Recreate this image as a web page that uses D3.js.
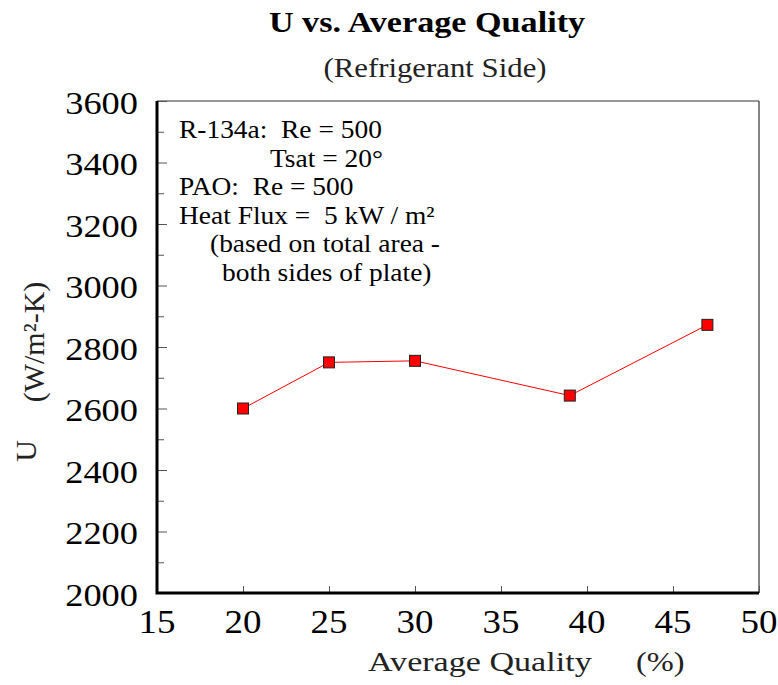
<!DOCTYPE html>
<html>
<head>
<meta charset="UTF-8">
<title>U vs. Average Quality</title>
<script src="https://cdn.jsdelivr.net/npm/d3@7"></script>
<style>
  body { margin: 0; background: #fff; }
  text { font-family: "Liberation Serif", "Times New Roman", serif; white-space: pre; }
</style>
</head>
<body>
<svg id="chart" width="778" height="685"></svg>
<script>
// data
const quality = [20, 25, 30, 39, 47];
const uValues = [2600, 2750, 2755, 2642, 2872];
const xTicks = [15, 20, 25, 30, 35, 40, 45, 50];
const yTicks = [2000, 2200, 2400, 2600, 2800, 3000, 3200, 3400, 3600];
const yMinor = [2100, 2300, 2500, 2700, 2900, 3100, 3300, 3500];
const notes = [
  { t: "R-134a:  Re = 500", dx: 0 },
  { t: "Tsat = 20°", dx: 91 },
  { t: "PAO:  Re = 500", dx: 0 },
  { t: "Heat Flux =  5 kW / m²", dx: 0 },
  { t: "(based on total area -", dx: 31 },
  { t: "both sides of plate)", dx: 43 }
];

const svg = d3.select("#chart");
const pLeft = 157, pRight = 759, pTop = 101, pBottom = 593;
const SX = 1.12; // the text in the picture is a bit wide

const x = d3.scaleLinear().domain([15, 50]).range([pLeft, pRight]);
const y = d3.scaleLinear().domain([2000, 3600]).range([pBottom, pTop]);

// text placed at (tx,ty) and stretched sideways
function label(g, tx, ty, str, size, anchor, sx) {
  return g.append("text")
    .attr("transform", `translate(${tx},${ty}) scale(${sx || SX},1)`)
    .attr("text-anchor", anchor || "start")
    .attr("font-family", "Liberation Serif")
    .attr("font-size", size)
    .text(str);
}

// title
label(svg, 427, 32, "U vs. Average Quality", 30.5, "middle").attr("font-weight", "bold");
label(svg, 435, 77, "(Refrigerant Side)", 27.5, "middle").attr("fill", "#222");

// frame: thin top/right
svg.append("line").attr("x1", pLeft).attr("x2", pRight).attr("y1", pTop).attr("y2", pTop)
  .attr("stroke", "#333").attr("stroke-width", 1.2);
svg.append("line").attr("x1", pRight).attr("x2", pRight).attr("y1", pTop).attr("y2", pBottom)
  .attr("stroke", "#333").attr("stroke-width", 1.2);

// y axis, ticks pointing in
const yAxis = svg.append("g").attr("transform", `translate(${pLeft},0)`)
  .call(d3.axisRight(y).tickValues(yTicks).tickSize(10).tickFormat(""));
yAxis.select(".domain").remove();
const yAxisMinor = svg.append("g").attr("transform", `translate(${pLeft},0)`)
  .call(d3.axisRight(y).tickValues(yMinor).tickSize(7).tickFormat(""));
yAxisMinor.select(".domain").remove();
svg.selectAll(".tick line").attr("stroke", "#555");

const yLab = svg.append("g");
yTicks.forEach(d => label(yLab, 138, y(d) + 12.5, d, 32.5, "end"));

// x axis, ticks pointing in
const xAxis = svg.append("g").attr("transform", `translate(0,${pBottom})`)
  .call(d3.axisTop(x).tickValues(xTicks).tickSize(7).tickFormat(""));
xAxis.select(".domain").remove();
xAxis.selectAll(".tick line").attr("stroke", "#555");

const xLab = svg.append("g");
xTicks.forEach(d => label(xLab, x(d), 633, d, 33, "middle"));

// thick left/bottom axis lines
svg.append("path")
  .attr("d", `M${pLeft},${pTop}V${pBottom}H${pRight}`)
  .attr("fill", "none").attr("stroke", "#000").attr("stroke-width", 3);

// axis titles
label(svg, 368, 671, "Average Quality", 27.5, "start", 1.24).attr("fill", "#222");
label(svg, 636, 671, "(%)", 27, "start", 1.2).attr("fill", "#222");
svg.append("text").attr("transform", "translate(36,451) rotate(-90)")
  .attr("text-anchor", "middle").attr("font-size", 30).attr("fill", "#222")
  .text("U");
svg.append("text").attr("transform", "translate(44,342) rotate(-90)")
  .attr("text-anchor", "middle").attr("font-size", 30).attr("fill", "#222")
  .text("(W/m²-K)");

// notes
const noteG = svg.append("g");
notes.forEach((d, i) => label(noteG, 179 + d.dx, 138 + i * 28.6, d.t, 24.5));

// series
const pts = quality.map((q, i) => [q, uValues[i]]);
svg.append("path").datum(pts)
  .attr("d", d3.line().x(d => x(d[0])).y(d => y(d[1])))
  .attr("fill", "none").attr("stroke", "#ff0000").attr("stroke-width", 1);
svg.append("g").selectAll("rect").data(pts).join("rect")
  .attr("x", d => x(d[0]) - 5.5).attr("y", d => y(d[1]) - 5.5)
  .attr("width", 11).attr("height", 11)
  .attr("fill", "#ff0000").attr("stroke", "#222").attr("stroke-width", 1);
</script>
</body>
</html>
